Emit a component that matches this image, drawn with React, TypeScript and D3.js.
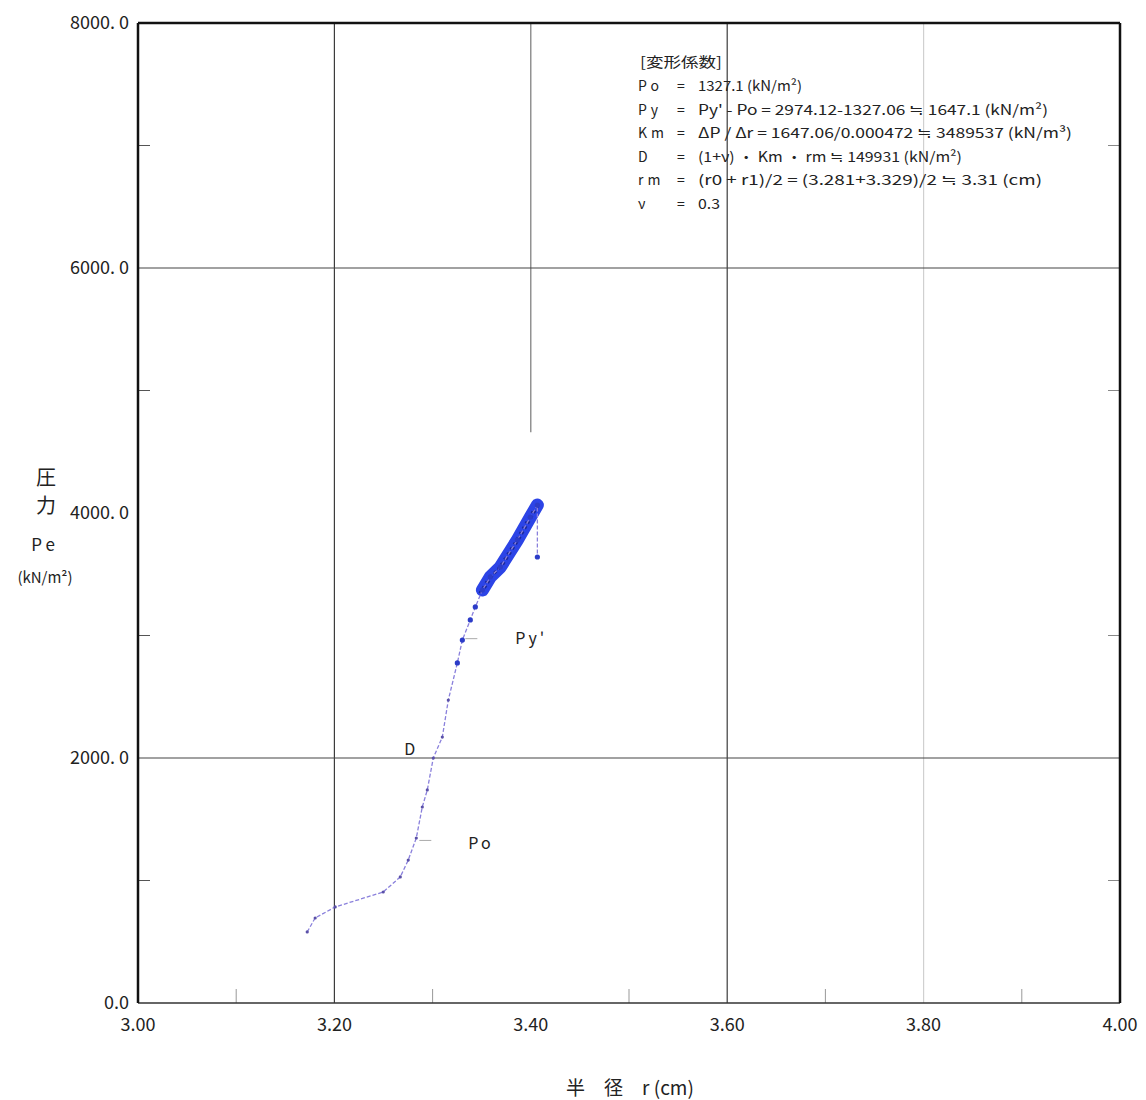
import React from "react";
import * as d3 from "d3";

// pressure curve
const radius = [
  3.1723, 3.1804, 3.2008, 3.2497, 3.2671, 3.2752, 3.2834, 3.2895, 3.2946,
  3.3007, 3.3099, 3.316, 3.3252, 3.3303, 3.3384, 3.3435, 3.3507, 3.3588,
  3.369, 3.3863, 3.3996, 3.4067, 3.4067,
];
const pressure = [
  580, 694, 784, 906, 1029, 1167, 1347, 1600, 1739, 2000, 2171, 2473, 2776,
  2963, 3127, 3233, 3371, 3478, 3559, 3780, 3967, 4065, 3641,
];
const bandFrom = 3.348; // dense blue scatter above this radius

const xTicks = [3.0, 3.2, 3.4, 3.6, 3.8, 4.0];
const xTickLabels = ["3.00", "3.20", "3.40", "3.60", "3.80", "4.00"];
const xMinor = [3.1, 3.3, 3.5, 3.7, 3.9];
const yTicks = [0, 2000, 4000, 6000, 8000];
const yTickLabels = ["0.0", "2000. 0", "4000. 0", "6000. 0", "8000. 0"];
const yMinor = [1000, 3000, 5000, 7000];

const po = { r: 3.2834, p: 1327.1 };
const pyDash = { r: 3.3303, p: 2974.12 };
const dPoint = { r: 3.3007, p: 2000 };

const coefTitle = "[変形係数]";
const coefLabels = ["Po", "Py", "Km", "D", "rm", "ν"];
const coefValues = [
  "1327.1 (kN/m²)",
  "Py' - Po  =  2974.12-1327.06 ≒ 1647.1 (kN/m²)",
  "ΔP / Δr  =  1647.06/0.000472 ≒ 3489537 (kN/m³)",
  "(1+ν) ・ Km ・ rm ≒ 149931 (kN/m²)",
  "(r0 + r1)/2  =  (3.281+3.329)/2 ≒ 3.31 (cm)",
  "0.3",
];
const coefWidths = [104, 350, 374, 264, 344, 22];

const W = 1146;
const H = 1100;
const left = 138,
  right = 1120,
  top = 23,
  bottom = 1003;

const font = "'Noto Sans CJK JP', 'Noto Sans', sans-serif";

export default function App() {
  const x = d3.scaleLinear().domain([3, 4]).range([left, right]);
  const y = d3.scaleLinear().domain([0, 8000]).range([bottom, top]);

  const pts: [number, number][] = radius.map((r, i) => [r, pressure[i]]);
  const line = d3
    .line<[number, number]>()
    .x((d) => x(d[0]))
    .y((d) => y(d[1]));
  const band = pts.slice(0, -1).filter((d) => d[0] >= bandFrom);

  return (
    <svg
      width={W}
      height={H}
      style={{ position: "absolute", left: 0, top: 0, background: "#fff" }}
      fontFamily={font}
    >
      {/* grid */}
      {xTicks.slice(1, -1).map((v) => (
        <line
          key={"gx" + v}
          x1={x(v)}
          x2={x(v)}
          y1={top}
          y2={v === 3.4 ? y(4660) : bottom}
          stroke={v === 3.8 ? "#d0d0d0" : v === 3.4 ? "#777" : "#3c3c3c"}
          strokeWidth={1.2}
        />
      ))}
      {[2000, 6000].map((v) => (
        <line
          key={"gy" + v}
          x1={left}
          x2={right}
          y1={y(v)}
          y2={y(v)}
          stroke="#444"
          strokeWidth={1.2}
        />
      ))}

      {/* minor ticks */}
      {xMinor.map((v) => (
        <line
          key={"mx" + v}
          x1={x(v)}
          x2={x(v)}
          y1={bottom}
          y2={bottom - 14}
          stroke="#999"
          strokeWidth={1}
        />
      ))}
      {yMinor.map((v) => (
        <g key={"my" + v}>
          <line x1={left} x2={left + 12} y1={y(v)} y2={y(v)} stroke="#555" />
          <line x1={right - 12} x2={right} y1={y(v)} y2={y(v)} stroke="#888" />
        </g>
      ))}

      {/* frame */}
      <line x1={left} x2={right} y1={top} y2={top} stroke="#111" strokeWidth={2.5} />
      <line x1={left} x2={right} y1={bottom} y2={bottom} stroke="#333" strokeWidth={1.6} />
      <line x1={left} x2={left} y1={top} y2={bottom} stroke="#111" strokeWidth={2.5} />
      <line x1={right} x2={right} y1={top} y2={bottom} stroke="#111" strokeWidth={2.5} />

      {/* tick labels */}
      {yTicks.map((v, i) => (
        <text
          key={"ty" + v}
          x={left - 9}
          y={y(v)}
          dy="0.35em"
          textAnchor="end"
          fontSize={18}
          fill="#222"
        >
          {yTickLabels[i]}
        </text>
      ))}
      {xTicks.map((v, i) => (
        <text
          key={"tx" + v}
          x={x(v)}
          y={bottom + 22}
          dy="0.35em"
          textAnchor="middle"
          fontSize={18}
          fill="#222"
        >
          {xTickLabels[i]}
        </text>
      ))}

      {/* axis titles */}
      <g fill="#222" textAnchor="middle">
        <text x={46} y={478} dy="0.35em" fontSize={20}>圧</text>
        <text x={46} y={506} dy="0.35em" fontSize={20}>力</text>
        <text x={45} y={545} dy="0.35em" fontSize={17} letterSpacing={4}>Pe</text>
        <text x={45} y={578} dy="0.35em" fontSize={15}>(kN/m²)</text>
        <text x={630} y={1088} dy="0.35em" fontSize={19}>
          半　径　r (cm)
        </text>
      </g>

      {/* curve */}
      <path
        d={line(band) || ""}
        fill="none"
        stroke="#2c44e6"
        strokeWidth={13}
        strokeLinecap="round"
        strokeLinejoin="round"
      />
      <path
        d={line(band) || ""}
        fill="none"
        stroke="#1a2898"
        strokeWidth={3}
        strokeDasharray="3 3"
        transform="translate(2,-2)"
      />
      <path
        d={line(band) || ""}
        fill="none"
        stroke="#1a2898"
        strokeWidth={2}
        strokeDasharray="2 4"
        transform="translate(-3,3)"
      />
      <path
        d={line(pts) || ""}
        fill="none"
        stroke="#8a80dc"
        strokeWidth={1.3}
        strokeDasharray="4 2"
      />
      {pts.map((d, i) => (
        <circle
          key={"pt" + i}
          cx={x(d[0])}
          cy={y(d[1])}
          r={d[1] > 2700 ? 2.6 : 1.6}
          fill={d[1] > 2700 ? "#2c3cc8" : "#5a50a8"}
        />
      ))}

      {/* Po / Py' markers */}
      {[po, pyDash].map((m, i) => (
        <line
          key={"mk" + i}
          x1={x(m.r) + 3}
          x2={x(m.r) + 15}
          y1={y(m.p)}
          y2={y(m.p)}
          stroke="#aaa"
          strokeWidth={1}
        />
      ))}
      <g fill="#222" fontSize={16} letterSpacing={3}>
        <text x={x(po.r) + 52} y={y(po.p) + 3} dy="0.35em">Po</text>
        <text x={x(pyDash.r) + 53} y={y(pyDash.p)} dy="0.35em">Py'</text>
        <text x={x(dPoint.r) - 29} y={y(dPoint.p) - 9} dy="0.35em">D</text>
      </g>

      {/* coefficient box */}
      <g fill="#222" fontSize={14}>
        <text x={640} y={62} dy="0.35em" textLength={82} lengthAdjust="spacingAndGlyphs">
          {coefTitle}
        </text>
        {coefLabels.map((l, i) => (
          <g key={"cf" + i}>
            <text x={638} y={86 + i * 23.6} dy="0.35em" letterSpacing={4}>
              {l}
            </text>
            <text x={677} y={86 + i * 23.6} dy="0.35em">
              =
            </text>
            <text
              x={698}
              y={86 + i * 23.6}
              dy="0.35em"
              textLength={coefWidths[i]}
              lengthAdjust="spacingAndGlyphs"
            >
              {coefValues[i]}
            </text>
          </g>
        ))}
      </g>
    </svg>
  );
}
